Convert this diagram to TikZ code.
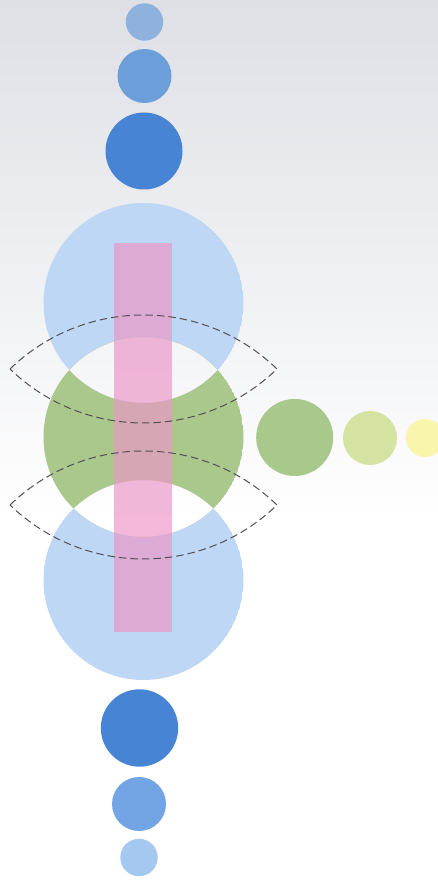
\documentclass[tikz,border=0pt]{standalone}
\begin{document}
\begin{tikzpicture}[x=1pt,y=1pt,
  lensline/.style={draw={rgb,255:red,80;green,80;blue,85}, line width=1pt, dash pattern=on 7.5pt off 4pt},
  pinkbar/.style={fill={rgb,255:red,236;green,150;blue,200}, fill opacity=0.68}]
\definecolor{bgtop}{RGB}{222,224,230}
\definecolor{bigblue}{RGB}{190,215,245}
\definecolor{biggreen}{RGB}{170,200,140}
\definecolor{darkblue}{RGB}{72,132,212}
\definecolor{midblue}{RGB}{108,158,218}
\definecolor{softblue}{RGB}{142,177,222}
\definecolor{lowsoft}{RGB}{165,200,240}
\definecolor{lowmid}{RGB}{115,165,228}
\definecolor{ballgreen}{RGB}{168,200,140}
\definecolor{lightgreen}{RGB}{212,226,162}
\definecolor{paleyellow}{RGB}{249,245,172}
% background (page is 438 x 882, y measured upward)
\useasboundingbox (0,0) rectangle (438,882);
\fill[white] (0,0) rectangle (438,882);
\shade[top color=bgtop, bottom color=white] (0,360) rectangle (438,882);
% big circles: upper blue, green, lower blue; overlaps left empty
\begin{scope}
  \clip (143.5,579) circle[radius=100];
  \fill[bigblue, even odd rule] (143.5,579) circle[radius=100] (143.5,445) circle[radius=100];
\end{scope}
\begin{scope}
  \clip (143.5,302) circle[radius=100];
  \fill[bigblue, even odd rule] (143.5,302) circle[radius=100] (143.5,445) circle[radius=100];
\end{scope}
\begin{scope}
  \clip (143.5,445) circle[radius=100];
  \fill[biggreen, even odd rule] (143.5,445) circle[radius=100] (143.5,579) circle[radius=100] (143.5,302) circle[radius=100];
\end{scope}
% top chain
\fill[softblue] (144.5,860) circle[radius=18.7];
\fill[midblue] (144.5,806) circle[radius=27];
\fill[darkblue] (144,731) circle[radius=38.5];
% bottom chain
\fill[darkblue] (139.5,154) circle[radius=38.7];
\fill[lowmid] (139,78) circle[radius=27];
\fill[lowsoft] (139,24.5) circle[radius=18.7];
% right chain
\fill[ballgreen] (294.7,444.5) circle[radius=38.5];
\fill[lightgreen] (370,444) circle[radius=27];
\fill[paleyellow] (425,444) circle[radius=19];
% pink bar
\fill[pinkbar] (113.5,250) rectangle (171.5,639);
% dashed lenses
\draw[lensline] (10,513) arc[start angle=134.05, end angle=45.95, radius=192]
  arc[start angle=-45.95, end angle=-134.05, radius=192] -- cycle;
\draw[lensline] (10,377) arc[start angle=134.05, end angle=45.95, radius=192]
  arc[start angle=-45.95, end angle=-134.05, radius=192] -- cycle;
\end{tikzpicture}
\end{document}
